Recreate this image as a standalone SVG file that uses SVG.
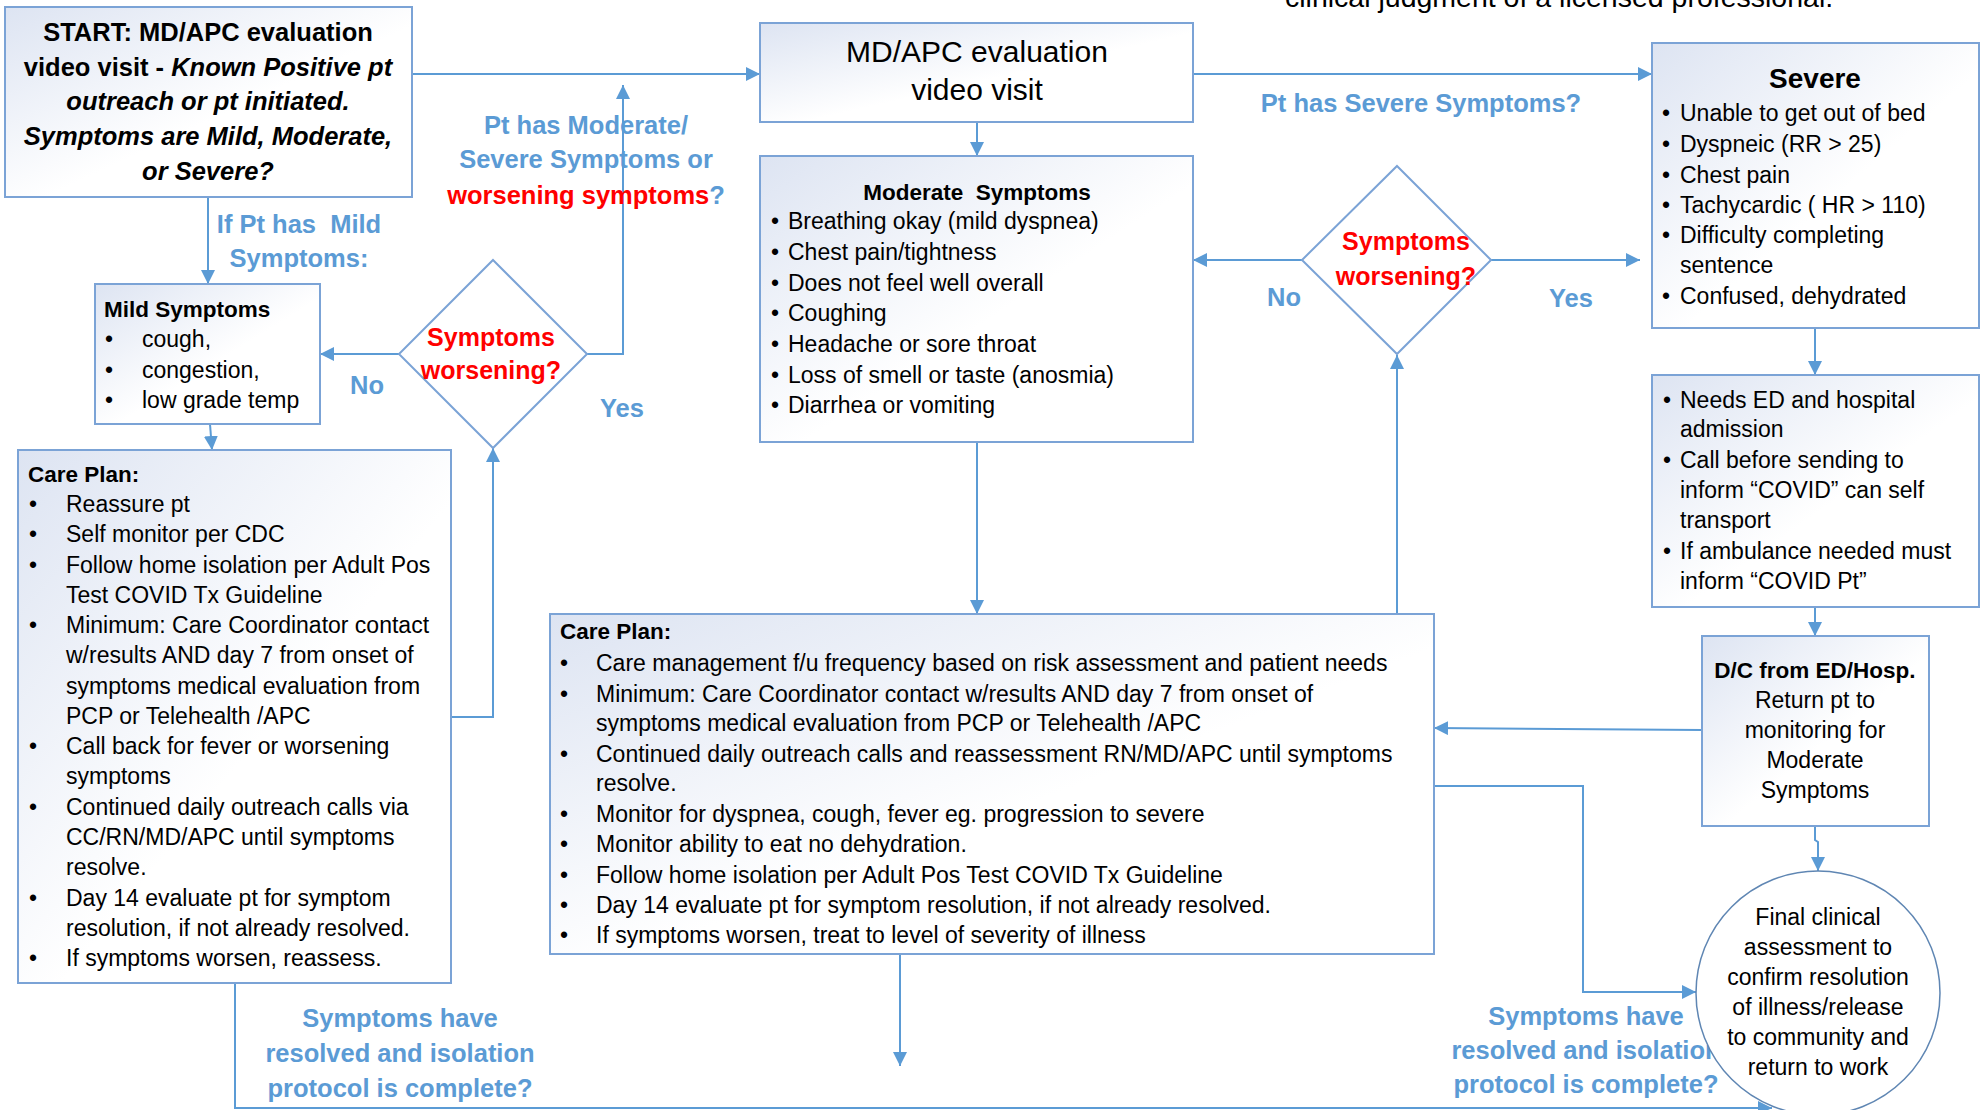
<svg xmlns="http://www.w3.org/2000/svg" width="1986" height="1110" viewBox="0 0 1986 1110">
<defs>
<linearGradient id="gf" x1="0" y1="0" x2="1" y2="1">
<stop offset="0" stop-color="#DDE4F2"/>
<stop offset="0.55" stop-color="#FFFFFF"/>
<stop offset="1" stop-color="#FFFFFF"/>
</linearGradient>
<marker id="ah" markerUnits="userSpaceOnUse" markerWidth="14" markerHeight="14" refX="14" refY="7" orient="auto">
<path d="M0,0 L14,7 L0,14 z" fill="#5B9BD5"/>
</marker>
<style>
.box{fill:url(#gf);stroke:#7BA3D6;stroke-width:2}
.dia{fill:#FFFFFF;stroke:#7BA3D6;stroke-width:2}
.con{fill:none;stroke:#5B9BD5;stroke-width:2}
.arr{marker-end:url(#ah)}
text{font-family:"Liberation Sans",Arial,sans-serif;fill:#000;white-space:pre}
.t{font-size:23px}
.h{font-size:22.5px;font-weight:bold}
.st{font-size:25.5px;font-weight:bold}
.it{font-style:italic}
.lbl{font-size:25.5px;font-weight:bold;fill:#5B9BD5}
.red{font-size:25px;font-weight:bold;fill:#FF0000}
.m{text-anchor:middle}
</style>
</defs>
<rect width="1986" height="1110" fill="#FFFFFF"/>

<text x="1285" y="7" style="font-size:28.5px">clinical judgment of a licensed professional.</text>

<g id="connectors">
<path class="con arr" d="M412,74 L760,74"/>
<path class="con arr" d="M208,197 L208,284"/>
<path class="con arr" d="M210,424 L212,450"/>
<path class="con arr" d="M399,354 L320,354"/>
<path class="con arr" d="M587,354 L623,354 L623,85"/>
<path class="con arr" d="M451,717 L493,717 L493,448"/>
<path class="con arr" d="M977,122 L977,156"/>
<path class="con arr" d="M1193,74 L1652,74"/>
<path class="con arr" d="M1302,260 L1193,260"/>
<path class="con arr" d="M1491,260 L1640,260"/>
<path class="con arr" d="M977,442 L977,614"/>
<path class="con arr" d="M1397,614 L1397,355"/>
<path class="con arr" d="M1815,328 L1815,375"/>
<path class="con arr" d="M1815,607 L1815,636"/>
<path class="con arr" d="M1702,730 L1434,728"/>
<path class="con arr" d="M1434,786 L1583,786 L1583,992 L1696,992"/>
<path class="con arr" d="M1815,826 L1815,840 L1818,842 L1818,871"/>
<path class="con arr" d="M235,983 L235,1108 L1772,1108"/>
<path class="con arr" d="M900,954 L900,1066"/>
</g>

<g id="edge-labels">
<text class="lbl m" x="299" y="233">If Pt has  Mild</text>
<text class="lbl m" x="299" y="267">Symptoms:</text>
<text class="lbl m" x="586" y="134">Pt has Moderate/</text>
<text class="lbl m" x="586" y="168">Severe Symptoms or</text>
<text class="m" x="586" y="204" style="font-size:25.5px;font-weight:bold"><tspan fill="#FF0000">worsening symptoms</tspan><tspan fill="#5B9BD5">?</tspan></text>
<text class="lbl" x="350" y="394">No</text>
<text class="lbl" x="600" y="417">Yes</text>
<text class="lbl m" x="1421" y="112">Pt has Severe Symptoms?</text>
<text class="lbl" x="1267" y="306">No</text>
<text class="lbl" x="1549" y="307">Yes</text>
<text class="lbl m" x="400" y="1027">Symptoms have</text>
<text class="lbl m" x="400" y="1062">resolved and isolation</text>
<text class="lbl m" x="400" y="1097">protocol is complete?</text>
<text class="lbl m" x="1586" y="1025">Symptoms have</text>
<text class="lbl m" x="1586" y="1059">resolved and isolation</text>
<text class="lbl m" x="1586" y="1093">protocol is complete?</text>
</g>

<g id="start">
<rect class="box" x="5" y="7" width="407" height="190"/>
<text class="st m" x="208" y="41">START: MD/APC evaluation</text>
<text class="st m" x="208" y="76">video visit - <tspan class="it">Known Positive pt</tspan></text>
<text class="st it m" x="208" y="110">outreach or pt initiated.</text>
<text class="st it m" x="208" y="145">Symptoms are Mild, Moderate,</text>
<text class="st it m" x="208" y="180">or Severe?</text>
</g>

<g id="mdapc">
<rect class="box" x="760" y="23" width="433" height="99"/>
<text class="m" x="977" y="62" style="font-size:30px">MD/APC evaluation</text>
<text class="m" x="977" y="100" style="font-size:30px">video visit</text>
</g>

<g id="mild">
<rect class="box" x="95" y="284" width="225" height="140"/>
<text class="h" x="104" y="317">Mild Symptoms</text>
<text class="t" x="105" y="347">•</text><text class="t" x="142" y="347">cough,</text>
<text class="t" x="105" y="378">•</text><text class="t" x="142" y="378">congestion,</text>
<text class="t" x="105" y="408">•</text><text class="t" x="142" y="408">low grade temp</text>
</g>

<g id="decision-mild">
<path class="dia" d="M493,260 L587,354 L493,448 L399,354 z"/>
<text class="red m" x="491" y="346">Symptoms</text>
<text class="red m" x="491" y="379">worsening?</text>
</g>

<g id="careplan-mild">
<rect class="box" x="18" y="450" width="433" height="533"/>
<text class="h" x="28" y="482">Care Plan:</text>
<text class="t" x="29" y="512">•</text><text class="t" x="66" y="512">Reassure pt</text>
<text class="t" x="29" y="542">•</text><text class="t" x="66" y="542">Self monitor per CDC</text>
<text class="t" x="29" y="573">•</text><text class="t" x="66" y="573">Follow home isolation per Adult Pos</text>
<text class="t" x="66" y="603">Test COVID Tx Guideline</text>
<text class="t" x="29" y="633">•</text><text class="t" x="66" y="633">Minimum: Care Coordinator contact</text>
<text class="t" x="66" y="663">w/results AND day 7 from onset of</text>
<text class="t" x="66" y="694">symptoms medical evaluation from</text>
<text class="t" x="66" y="724">PCP or Telehealth /APC</text>
<text class="t" x="29" y="754">•</text><text class="t" x="66" y="754">Call back for fever or worsening</text>
<text class="t" x="66" y="784">symptoms</text>
<text class="t" x="29" y="815">•</text><text class="t" x="66" y="815">Continued daily outreach calls via</text>
<text class="t" x="66" y="845">CC/RN/MD/APC until symptoms</text>
<text class="t" x="66" y="875">resolve.</text>
<text class="t" x="29" y="906">•</text><text class="t" x="66" y="906">Day 14 evaluate pt for symptom</text>
<text class="t" x="66" y="936">resolution, if not already resolved.</text>
<text class="t" x="29" y="966">•</text><text class="t" x="66" y="966">If symptoms worsen, reassess.</text>
</g>

<g id="moderate">
<rect class="box" x="760" y="156" width="433" height="286"/>
<text class="h m" x="977" y="200">Moderate  Symptoms</text>
<text class="t" x="771" y="229">•</text><text class="t" x="788" y="229">Breathing okay (mild dyspnea)</text>
<text class="t" x="771" y="260">•</text><text class="t" x="788" y="260">Chest pain/tightness</text>
<text class="t" x="771" y="291">•</text><text class="t" x="788" y="291">Does not feel well overall</text>
<text class="t" x="771" y="321">•</text><text class="t" x="788" y="321">Coughing</text>
<text class="t" x="771" y="352">•</text><text class="t" x="788" y="352">Headache or sore throat</text>
<text class="t" x="771" y="383">•</text><text class="t" x="788" y="383">Loss of smell or taste (anosmia)</text>
<text class="t" x="771" y="413">•</text><text class="t" x="788" y="413">Diarrhea or vomiting</text>
</g>

<g id="decision-moderate">
<path class="dia" d="M1397,166 L1491,260 L1397,354 L1302,260 z"/>
<text class="red m" x="1406" y="250">Symptoms</text>
<text class="red m" x="1406" y="285">worsening?</text>
</g>

<g id="severe">
<rect class="box" x="1652" y="43" width="327" height="285"/>
<text class="m" x="1815" y="88" style="font-size:28px;font-weight:bold">Severe</text>
<text class="t" x="1662" y="121">•</text><text class="t" x="1680" y="121">Unable to get out of bed</text>
<text class="t" x="1662" y="152">•</text><text class="t" x="1680" y="152">Dyspneic (RR &gt; 25)</text>
<text class="t" x="1662" y="183">•</text><text class="t" x="1680" y="183">Chest pain</text>
<text class="t" x="1662" y="213">•</text><text class="t" x="1680" y="213">Tachycardic ( HR &gt; 110)</text>
<text class="t" x="1662" y="243">•</text><text class="t" x="1680" y="243">Difficulty completing</text>
<text class="t" x="1680" y="273">sentence</text>
<text class="t" x="1662" y="304">•</text><text class="t" x="1680" y="304">Confused, dehydrated</text>
</g>

<g id="ed-admission">
<rect class="box" x="1652" y="375" width="327" height="232"/>
<text class="t" x="1663" y="408">•</text><text class="t" x="1680" y="408">Needs ED and hospital</text>
<text class="t" x="1680" y="437">admission</text>
<text class="t" x="1663" y="468">•</text><text class="t" x="1680" y="468">Call before sending to</text>
<text class="t" x="1680" y="498">inform “COVID” can self</text>
<text class="t" x="1680" y="528">transport</text>
<text class="t" x="1663" y="559">•</text><text class="t" x="1680" y="559">If ambulance needed must</text>
<text class="t" x="1680" y="589">inform “COVID Pt”</text>
</g>

<g id="discharge">
<rect class="box" x="1702" y="636" width="227" height="190"/>
<text class="h m" x="1815" y="678">D/C from ED/Hosp.</text>
<text class="t m" x="1815" y="708">Return pt to</text>
<text class="t m" x="1815" y="738">monitoring for</text>
<text class="t m" x="1815" y="768">Moderate</text>
<text class="t m" x="1815" y="798">Symptoms</text>
</g>

<g id="careplan-moderate">
<rect class="box" x="550" y="614" width="884" height="340"/>
<text class="h" x="560" y="639">Care Plan:</text>
<text class="t" x="560" y="671">•</text><text class="t" x="596" y="671">Care management f/u frequency based on risk assessment and patient needs</text>
<text class="t" x="560" y="702">•</text><text class="t" x="596" y="702">Minimum: Care Coordinator contact w/results AND day 7 from onset of</text>
<text class="t" x="596" y="731">symptoms medical evaluation from PCP or Telehealth /APC</text>
<text class="t" x="560" y="762">•</text><text class="t" x="596" y="762">Continued daily outreach calls and reassessment RN/MD/APC until symptoms</text>
<text class="t" x="596" y="791">resolve.</text>
<text class="t" x="560" y="822">•</text><text class="t" x="596" y="822">Monitor for dyspnea, cough, fever eg. progression to severe</text>
<text class="t" x="560" y="852">•</text><text class="t" x="596" y="852">Monitor ability to eat no dehydration.</text>
<text class="t" x="560" y="883">•</text><text class="t" x="596" y="883">Follow home isolation per Adult Pos Test COVID Tx Guideline</text>
<text class="t" x="560" y="913">•</text><text class="t" x="596" y="913">Day 14 evaluate pt for symptom resolution, if not already resolved.</text>
<text class="t" x="560" y="943">•</text><text class="t" x="596" y="943">If symptoms worsen, treat to level of severity of illness</text>
</g>

<g id="final">
<circle cx="1818" cy="993" r="122" fill="#FFFFFF" stroke="#5F86B3" stroke-width="1.5"/>
<text class="t m" x="1818" y="925">Final clinical</text>
<text class="t m" x="1818" y="955">assessment to</text>
<text class="t m" x="1818" y="985">confirm resolution</text>
<text class="t m" x="1818" y="1015">of illness/release</text>
<text class="t m" x="1818" y="1045">to community and</text>
<text class="t m" x="1818" y="1075">return to work</text>
</g>
</svg>
